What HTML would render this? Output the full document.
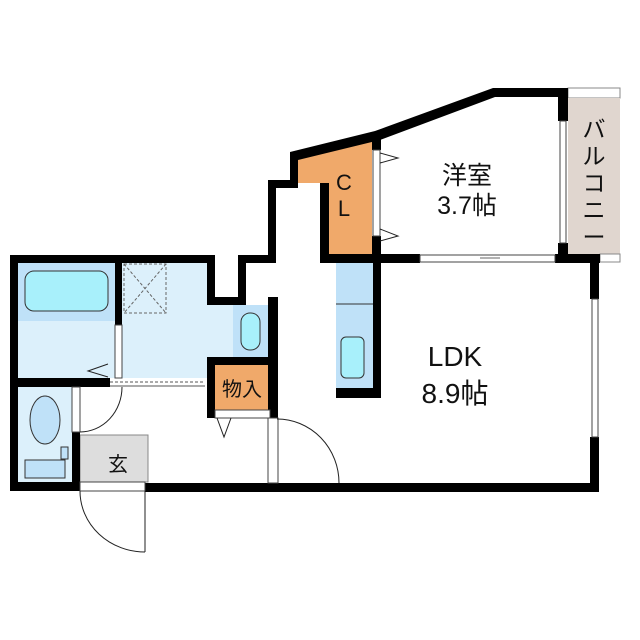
<!DOCTYPE html>
<html><head><meta charset="utf-8"><style>
html,body{margin:0;padding:0;background:#fff;}
svg{display:block;}
text{font-family:"Liberation Sans","Noto Sans CJK JP",sans-serif;fill:#111;}
</style></head><body>
<svg width="640" height="640" viewBox="0 0 640 640" xmlns="http://www.w3.org/2000/svg">
<rect x="568" y="88" width="52" height="10" fill="#fff" stroke="#888" stroke-width="1"/>
<rect x="568" y="98" width="52" height="156" fill="#e0d6cf"/>
<rect x="600" y="254" width="20" height="8" fill="#fff" stroke="#888" stroke-width="1"/>
<polygon points="298,158 372,140 372,254 329,254 329,183 298,183" fill="#f0a96a"/>
<rect x="18" y="263" width="97" height="115" fill="#dcf0fb"/>
<rect x="18" y="263" width="97" height="58" fill="#bfe1f8"/>
<rect x="25" y="271" width="83" height="40" rx="9" fill="#a8f0fb" stroke="#333" stroke-width="1"/>
<rect x="122" y="263" width="85" height="115" fill="#dcf0fb"/>
<rect x="207" y="305" width="30" height="52" fill="#dcf0fb"/>
<rect x="124" y="264" width="42" height="49" fill="none" stroke="#666" stroke-width="1" stroke-dasharray="3,2"/>
<line x1="124" y1="264" x2="166" y2="313" stroke="#666" stroke-dasharray="3,2"/>
<line x1="166" y1="264" x2="124" y2="313" stroke="#666" stroke-dasharray="3,2"/>
<rect x="233" y="305" width="35" height="52" fill="#bfe1f8"/>
<rect x="241" y="313" width="19" height="37" rx="9" fill="#a8f0fb" stroke="#333" stroke-width="1"/>
<rect x="215" y="365" width="55" height="45" fill="#f0a96a"/>
<rect x="18" y="387" width="54" height="95" fill="#dcf0fb"/>
<ellipse cx="45" cy="420" rx="15" ry="24" fill="#bfe1f8" stroke="#333"/>
<rect x="61" y="447" width="7" height="12" fill="#bfe1f8" stroke="#333"/>
<rect x="25" y="460" width="40" height="18" fill="#bfe1f8" stroke="#333"/>
<rect x="80" y="435" width="68" height="47" fill="#ddd" stroke="#888"/>
<rect x="336" y="262" width="37" height="126" fill="#bfe1f8"/>
<line x1="336" y1="304" x2="373" y2="304" stroke="#333"/>
<rect x="341" y="337" width="23" height="41" rx="5" fill="#a8f0fb" stroke="#333"/>
<g fill="#000">
<polygon points="290,152 375,131 493,88 568,88 568,97 495,97 380,140 298,160 298,188 290,188"/>
<rect x="268" y="180" width="30" height="8"/>
<rect x="268" y="180" width="8" height="83"/>
<rect x="320" y="183" width="9" height="80"/>
<rect x="372" y="135" width="9" height="15"/>
<rect x="372" y="236" width="9" height="26"/>
<rect x="320" y="254" width="100" height="9"/>
<rect x="555" y="254" width="45" height="9"/>
<rect x="558" y="88" width="10" height="33"/>
<rect x="558" y="243" width="10" height="19"/>
<rect x="590" y="254" width="9" height="45"/>
<rect x="590" y="437" width="9" height="55"/>
<rect x="10" y="255" width="205" height="8"/>
<rect x="10" y="255" width="8" height="235"/>
<rect x="207" y="255" width="8" height="50"/>
<rect x="207" y="297" width="39" height="8"/>
<rect x="238" y="255" width="8" height="50"/>
<rect x="238" y="255" width="38" height="8"/>
<rect x="268" y="297" width="10" height="121"/>
<rect x="207" y="357" width="71" height="8"/>
<rect x="207" y="357" width="8" height="61"/>
<rect x="115" y="263" width="7" height="62"/>
<rect x="10" y="378" width="100" height="9"/>
<rect x="72" y="432" width="8" height="58"/>
<rect x="10" y="482" width="70" height="9"/>
<rect x="145" y="483" width="454" height="9"/>
<rect x="373" y="262" width="8" height="136"/>
<rect x="336" y="388" width="45" height="10"/>
</g>
<g fill="#fff" stroke="#444" stroke-width="1">
<rect x="420" y="255" width="135" height="7"/>
<rect x="560" y="121" width="6" height="122"/>
<rect x="592" y="299" width="6" height="138"/>
<rect x="373" y="150" width="7" height="86"/>
<rect x="115" y="325" width="7" height="53"/>
<rect x="72" y="387" width="8" height="45"/>
<rect x="215" y="410" width="55" height="8"/>
<rect x="268" y="418" width="10" height="65"/>
<rect x="80" y="482" width="65" height="9"/>
</g>
<line x1="110" y1="382" x2="205" y2="382" stroke="#555" stroke-dasharray="3,2"/>
<line x1="110" y1="386" x2="205" y2="386" stroke="#555"/>
<line x1="480" y1="258" x2="500" y2="258" stroke="#666"/>
<g fill="none" stroke="#222" stroke-width="1">
<path d="M122,387 A42,45 0 0 1 80,432"/>
<path d="M145,491 L145,552 M80,491 A65,61 0 0 0 145,552"/>
<path d="M277,419 A62,64 0 0 1 339,483"/>
<polyline points="108,364 88,371 108,377"/>
<polyline points="380,153 398,158 380,163"/>
<polyline points="380,229 398,236 380,241"/>
<polyline points="217,418 224,437 231,418"/>
</g>
<text x="344" y="190" font-size="22" text-anchor="middle">C</text>
<text x="344" y="216" font-size="22" text-anchor="middle">L</text>
<text x="467" y="184" font-size="25" text-anchor="middle">洋室</text>
<text x="467" y="214" font-size="25" text-anchor="middle">3.7帖</text>
<text x="455" y="366" font-size="28" text-anchor="middle">LDK</text>
<text x="455" y="403" font-size="28" text-anchor="middle">8.9帖</text>
<text x="242" y="396" font-size="20" text-anchor="middle">物入</text>
<text x="118" y="471" font-size="20" text-anchor="middle">玄</text>
<g font-size="23" text-anchor="middle">
<text x="594" y="137">バ</text>
<text x="594" y="164">ル</text>
<text x="594" y="191">コ</text>
<text x="594" y="218">ニ</text>
<text x="594" y="245">ー</text>
</g>
</svg>
</body></html>
